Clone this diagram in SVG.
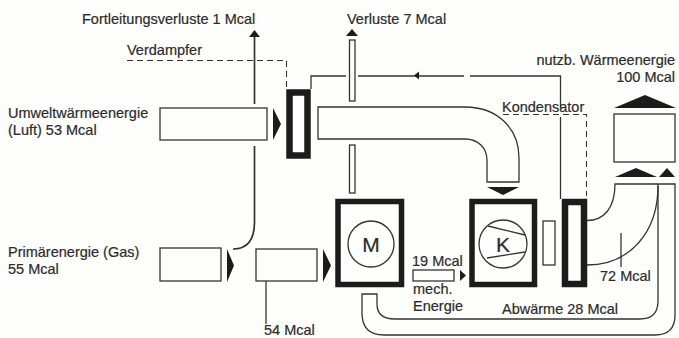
<svg xmlns="http://www.w3.org/2000/svg" width="679" height="338" viewBox="0 0 679 338">
<style>
.t{font-family:"Liberation Sans",Arial,sans-serif;font-size:14.500px;fill:#2b2b2b;stroke:#2b2b2b;stroke-width:.2}
.l{fill:none;stroke:#333;stroke-width:1.3}
.b{fill:#fefefc;stroke:#333;stroke-width:1.3}
.h{fill:#fefefc;stroke:#1c1c1c;stroke-width:6.500}
.m{fill:#fefefc;stroke:#1c1c1c;stroke-width:5.500}
.a{fill:#1c1c1c}
.d{fill:none;stroke:#333;stroke-width:1.100;stroke-dasharray:6 4}
.c{font-size:21px;text-anchor:middle}
</style>
<rect width="679" height="338" fill="#fefefc"/>
<g id="connectors">
<path class="l" style="stroke-width:1.700" d="M254.500 104V37M254.500 146V222Q254.500 249 233 249"/>
<path class="a" d="M254.500 30L260 37H249Z"/>
<path class="d" d="M127 60.500H286.500V87"/>
<path class="d" d="M503 114.500H586.500V196"/>
<path class="l" d="M311 89V76H346M358 76H464M470 76H560.500V108M560.500 117V199"/>
<path class="a" d="M414 75.500L419 71.500V79.500Z"/>
<path class="l" d="M587 220.500C604 220.500 615 208 615 184H675V315Q675 335 655 335H384Q362 335 362 313V294H377V304Q377 319 395 319H640Q658 319 658 301V184"/>
<path class="l" d="M587 265C630 265 658 232 658 186"/>
<path class="l" d="M621 233V267M266 267V324"/>
</g>
<g id="verdampfer"><rect class="h" x="289.500" y="92.500" width="18" height="63"/></g>
<g id="umwelt-box"><rect class="b" x="160" y="108" width="107" height="32"/><path class="a" d="M273 108L281 124L273 140Z"/></g>
<g id="pipe"><path class="b" d="M318 107H465C497 107 519 128 519 158V182H487V160C487 148 478 139 465 139H318Z"/><path class="a" d="M487 187H519L503 195Z"/></g>
<g id="loss-bars">
<rect class="b" x="349.500" y="40" width="5.500" height="61"/>
<rect class="b" x="349.500" y="145" width="5.500" height="48"/>
<path class="a" d="M352 29L358 36H346Z"/>
</g>
<g id="gas-box"><rect class="b" x="160" y="248" width="61" height="33"/><path class="a" d="M227 249L234 265.500L227 282Z"/></g>
<g id="gas-box-2"><rect class="b" x="256" y="249" width="61" height="32"/><path class="a" d="M323 249L331 265.500L323 282Z"/></g>
<g id="motor"><rect class="m" x="338" y="201.500" width="63.500" height="83"/><circle class="b" cx="371" cy="244" r="23"/><text class="t c" x="371" y="252">M</text></g>
<g id="mech"><rect class="b" x="413" y="270" width="41" height="11"/><path class="a" d="M460 270L466 275.500L460 281Z"/></g>
<g id="kompressor"><rect class="m" x="472" y="201.500" width="62.500" height="83"/><circle class="b" cx="503" cy="244" r="24"/><path class="l" d="M488 226L525 235M487 258L525 252"/><text class="t c" x="503" y="252">K</text></g>
<g id="mid-bar"><rect class="b" x="543" y="221" width="12" height="44"/></g>
<g id="kondensator"><rect class="h" x="565" y="202" width="19" height="82"/></g>
<g id="output"><rect class="b" x="614" y="114" width="61" height="48"/><path class="a" d="M645 95L676 108H614Z"/><path class="a" d="M636 168L657 177H615Z"/><path class="a" d="M667 168L675 177H659Z"/></g>
<g id="labels">
<text class="t" x="82" y="24">Fortleitungsverluste 1 Mcal</text>
<text class="t" x="127" y="55">Verdampfer</text>
<text class="t" x="347" y="24">Verluste 7 Mcal</text>
<text class="t" x="675" y="65" text-anchor="end">nutzb. Wärmeenergie</text>
<text class="t" x="675" y="82" text-anchor="end">100 Mcal</text>
<text class="t" x="502" y="112">Kondensator</text>
<text class="t" x="8" y="118">Umweltwärmeenergie</text>
<text class="t" x="8" y="135">(Luft) 53 Mcal</text>
<text class="t" x="8" y="257">Primärenergie (Gas)</text>
<text class="t" x="8" y="274">55 Mcal</text>
<text class="t" x="264" y="335">54 Mcal</text>
<text class="t" x="412" y="266">19 Mcal</text>
<text class="t" x="413" y="293.500">mech.</text>
<text class="t" x="413" y="310.500">Energie</text>
<text class="t" x="600" y="281">72 Mcal</text>
<text class="t" x="502" y="314">Abwärme 28 Mcal</text>
</g>
</svg>
